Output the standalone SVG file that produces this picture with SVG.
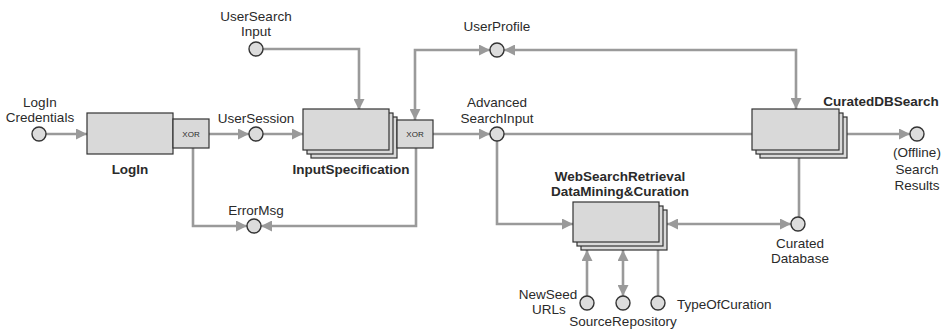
<svg xmlns="http://www.w3.org/2000/svg" width="944" height="329" viewBox="0 0 944 329">
<style>
.box{fill:#d9d9d9;stroke:#333;stroke-width:1.2}
.circ{fill:#dcdcdc;stroke:#333;stroke-width:1.4}
.c{fill:none;stroke:#9a9a9a;stroke-width:2.6}
text{font-family:"Liberation Sans",Arial,sans-serif;font-size:13.5px;fill:#2a2a2a;text-anchor:middle}
.b{font-weight:bold}
.x{font-size:8px}
</style>
<defs>
<marker id="a" markerUnits="userSpaceOnUse" markerWidth="11" markerHeight="11" refX="10" refY="5" orient="auto-start-reverse" viewBox="0 0 10 10">
<path d="M0,0 L10,5 L0,10 z" fill="#9a9a9a"/>
</marker>
</defs>
<rect width="944" height="329" fill="#fff"/>
<g id="connectors">
<path class="c" d="M46,134 H87" marker-end="url(#a)"/>
<path class="c" d="M209,134 H249" marker-end="url(#a)"/>
<path class="c" d="M263,134 H303" marker-end="url(#a)"/>
<path class="c" d="M263,49 H359 V110" marker-end="url(#a)"/>
<path class="c" d="M193,148 V226 H247" marker-end="url(#a)"/>
<path class="c" d="M416,148 V226 H261" marker-end="url(#a)"/>
<path class="c" d="M490,50 H415 V120" marker-start="url(#a)" marker-end="url(#a)"/>
<path class="c" d="M504,50 H796 V109" marker-start="url(#a)" marker-end="url(#a)"/>
<path class="c" d="M433,134 H490" marker-end="url(#a)"/>
<path class="c" d="M504,134 H752"/>
<path class="c" d="M497,141 V224 H573" marker-end="url(#a)"/>
<path class="c" d="M667,224 H791" marker-start="url(#a)" marker-end="url(#a)"/>
<path class="c" d="M799,158 V217"/>
<path class="c" d="M847,134 H910" marker-end="url(#a)"/>
<path class="c" d="M587,296 V250" marker-end="url(#a)"/>
<path class="c" d="M623,296 V250" marker-start="url(#a)" marker-end="url(#a)"/>
<path class="c" d="M658,296 V249"/>
</g>
<g id="LogInCredentials">
<circle class="circ" cx="39" cy="134" r="7"/>
<text x="40" y="107">LogIn</text>
<text x="40" y="122">Credentials</text>
</g>
<g id="LogIn">
<rect class="box" x="87" y="113" width="86" height="41"/>
<rect class="box" x="173" y="119" width="36" height="29"/>
<text class="x" x="191" y="137">XOR</text>
<text class="b" x="130" y="174">LogIn</text>
</g>
<g id="UserSession">
<circle class="circ" cx="256" cy="134" r="7"/>
<text x="256" y="123">UserSession</text>
</g>
<g id="UserSearchInput">
<circle class="circ" cx="256" cy="49" r="7"/>
<text x="256" y="21">UserSearch</text>
<text x="256" y="36">Input</text>
</g>
<g id="InputSpecification">
<rect class="box" x="311" y="117" width="86" height="41"/>
<rect class="box" x="307" y="113" width="86" height="41"/>
<rect class="box" x="303" y="109" width="86" height="41"/>
<rect class="box" x="397" y="120" width="36" height="28"/>
<text class="x" x="415" y="137">XOR</text>
<text class="b" x="351" y="174">InputSpecification</text>
</g>
<g id="ErrorMsg">
<circle class="circ" cx="254" cy="226" r="7"/>
<text x="256" y="215">ErrorMsg</text>
</g>
<g id="UserProfile">
<circle class="circ" cx="497" cy="50" r="7"/>
<text x="497" y="31">UserProfile</text>
</g>
<g id="AdvancedSearchInput">
<circle class="circ" cx="497" cy="134" r="7"/>
<text x="497" y="107">Advanced</text>
<text x="497" y="123">SearchInput</text>
</g>
<g id="WebSearchRetrieval">
<rect class="box" x="581" y="210" width="86" height="40"/>
<rect class="box" x="577" y="206" width="86" height="40"/>
<rect class="box" x="573" y="202" width="86" height="40"/>
<text class="b" x="620" y="181">WebSearchRetrieval</text>
<text class="b" x="620" y="196">DataMining&amp;Curation</text>
</g>
<g id="CuratedDBSearch">
<rect class="box" x="760" y="117" width="87" height="41"/>
<rect class="box" x="756" y="113" width="87" height="41"/>
<rect class="box" x="752" y="109" width="87" height="41"/>
<text class="b" x="881" y="106">CuratedDBSearch</text>
</g>
<g id="SearchResults">
<circle class="circ" cx="917" cy="134" r="7"/>
<text x="917" y="157">(Offline)</text>
<text x="917" y="174">Search</text>
<text x="917" y="190">Results</text>
</g>
<g id="CuratedDatabase">
<circle class="circ" cx="798" cy="224" r="7"/>
<text x="800" y="248">Curated</text>
<text x="800" y="263">Database</text>
</g>
<g id="NewSeedURLs">
<circle class="circ" cx="587" cy="303" r="7"/>
<text x="548" y="299">NewSeed</text>
<text x="549" y="314">URLs</text>
</g>
<g id="SourceRepository">
<circle class="circ" cx="623" cy="303" r="7"/>
<text x="623" y="326">SourceRepository</text>
</g>
<g id="TypeOfCuration">
<circle class="circ" cx="658" cy="303" r="7"/>
<text x="677" y="309" style="text-anchor:start">TypeOfCuration</text>
</g>
</svg>
